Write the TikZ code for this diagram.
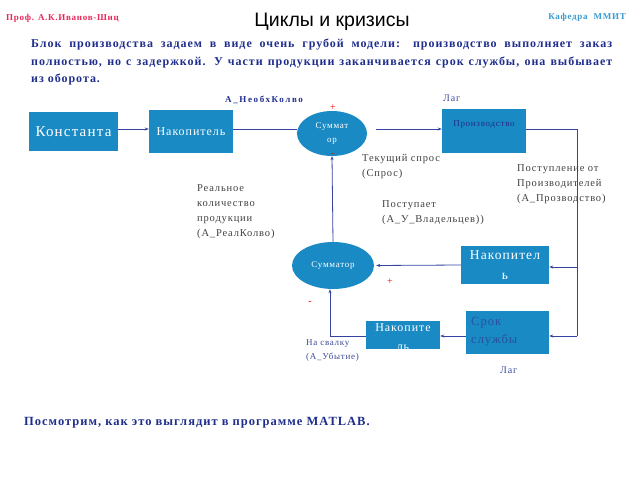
\documentclass[tikz,border=0pt]{standalone}
\usepackage{fontspec}
\setmainfont{Liberation Serif}[LetterSpace=8]
\newfontfamily\titlefont{Liberation Sans}
\usetikzlibrary{arrows.meta,shapes.geometric}
\definecolor{boxblue}{HTML}{1A8AC4}
\definecolor{linecol}{HTML}{3444A0}
\definecolor{navy}{HTML}{1F2E8C}
\definecolor{profred}{HTML}{E8285A}
\definecolor{kafblue}{HTML}{3A9AD0}
\definecolor{lbl}{HTML}{404040}
\definecolor{lblblue}{HTML}{3A4A9A}
\definecolor{sroktext}{HTML}{28509E}
\tikzset{
  blk/.style={draw=none,fill=boxblue,text=white,align=center,inner sep=0pt},
  sumnode/.style={ellipse,draw=none,fill=boxblue,text=white,align=center,inner sep=0pt},
  conn/.style={draw=linecol,line width=0.8pt},
  arr/.style={conn,-{Stealth[length=4pt,width=3pt]}},
  sign/.style={text=red,font=\fontsize{10}{10}\selectfont,inner sep=0pt},
  lab/.style={text=lbl,align=left,anchor=north west,inner sep=0pt,font=\fontsize{10.5}{15}\selectfont},
}
\begin{document}
\begin{tikzpicture}[x=1pt,y=-1pt]
\useasboundingbox (0,0) rectangle (640,480);
% header
\node[anchor=west,text=profred,inner sep=0pt,font=\bfseries\fontsize{9}{10}\selectfont] (prof) at (6,18) {Проф. А.К.Иванов-Шиц};
\node[inner sep=0pt,font=\titlefont\fontsize{19.5}{21}\selectfont] (title) at (332,22) {Циклы и кризисы};
\node[anchor=east,text=kafblue,inner sep=0pt,font=\bfseries\fontsize{9}{10}\selectfont] (kaf) at (626,17) {Кафедра \ ММИТ};
\node[anchor=north west,text=navy,inner sep=0pt,text width=581pt,align=justify,font=\bfseries\fontsize{12}{17.5}\selectfont] (para) at (31,39) {Блок производства задаем в виде очень грубой модели: производство выполняет заказ\linebreak полностью, но с задержкой. У части продукции заканчивается срок службы, она выбывает\linebreak из оборота.};
% blocks
\node[blk,minimum width=89pt,minimum height=39pt,font=\fontsize{15}{17}\selectfont] (konst) at (73.5,131.5) {Константа};
\node[blk,minimum width=84pt,minimum height=43pt,font=\fontsize{12}{13}\selectfont] (nak1) at (191,131.5) {Накопитель};
\node[sumnode,minimum width=70pt,minimum height=45pt,font=\fontsize{9}{14}\selectfont] (sum1) at (332,133.5) {Суммат\\ор};
\node[blk,minimum width=84pt,minimum height=44pt] (prod) at (484,131) {};
\node[text=navy,inner sep=0pt,font=\fontsize{9}{10}\selectfont] (prodtxt) at (484,125) {Производство};
\node[blk,minimum width=88pt,minimum height=38pt,font=\fontsize{13.5}{20}\selectfont] (nak2) at (505,265) {Накопител\\ь};
\node[blk,minimum width=83pt,minimum height=43pt] (srok) at (507.5,332.5) {};
\node[anchor=north west,text=sroktext,align=left,inner sep=0pt,font=\fontsize{12.5}{18.5}\selectfont] (sroktxt) at (471,317) {Срок\\службы};
\node[sumnode,minimum width=82pt,minimum height=47pt,font=\fontsize{9}{11}\selectfont] (sum2) at (333,265.5) {Сумматор};
\node[blk,minimum width=74pt,minimum height=28pt] (nak3) at (403,335) {};
\node[text=white,align=center,inner sep=0pt,font=\fontsize{12}{19}\selectfont] (nak3txt) at (403,337) {Накопите\\ль};
% junction coordinates
\coordinate (r1) at (0,129);
\coordinate (j1) at (577,129);
\coordinate (j2) at (577,267);
\coordinate (j3) at (577,336);
\coordinate (j4) at (330,336);
% connectors
\draw[arr] (konst.east |- r1) -- (nak1.west |- r1);
\draw[conn] (nak1.east |- r1) -- (sum1.west |- r1);
\draw[arr,shorten <=9pt] (sum1.east |- r1) -- (prod.west |- r1);
\draw[conn] (prod.east |- r1) -- (j1) -- (j3);
\draw[arr] (j2) -- (nak2.east |- j2);
\draw[arr] (j3) -- (srok.east |- j3);
\draw[arr,shorten >=2pt] (nak2.west) -- (sum2.east);
\draw[arr] (srok.west |- j3) -- (nak3.east |- j3);
\draw[conn] (nak3.west |- j3) -- (j4);
\draw[arr] (j4) -- (j4 |- sum2.south);
\draw[arr] (sum2.north) -- (sum1.south);
% signs
\node[sign] (p1) at (333,108) {+};
\node[sign] (m1) at (333,155) {-};
\node[sign] (p2) at (390,282) {+};
\node[sign] (m2) at (310,303) {-};
% labels
\node[anchor=west,text=navy,inner sep=0pt,font=\bfseries\fontsize{9}{10}\selectfont\addfontfeatures{LetterSpace=18}] (neob) at (225,100) {А\_НеобхКолво};
\node[anchor=west,text=lblblue,inner sep=0pt,font=\fontsize{10}{10}\selectfont] (lag1) at (443,98) {Лаг};
\node[lab] (real) at (197,184) {Реальное\\количество\\продукции\\(А\_РеалКолво)};
\node[lab] (spros) at (362,154) {Текущий спрос\\(Спрос)};
\node[lab] (post) at (382,200) {Поступает\\(А\_У\_Владельцев))};
\node[lab] (postpr) at (517,164) {Поступление от\\Производителей\\(А\_Прозводство)};
\node[lab,text=lblblue,font=\fontsize{9}{14}\selectfont] (sval) at (306,339) {На свалку\\(А\_Убытие)};
\node[anchor=west,text=lblblue,inner sep=0pt,font=\fontsize{10}{10}\selectfont] (lag2) at (500,370) {Лаг};
\node[anchor=west,text=navy,inner sep=0pt,font=\bfseries\fontsize{12.5}{14}\selectfont] (matlab) at (24,423) {Посмотрим, как это выглядит в программе MATLAB.};
\end{tikzpicture}
\end{document}
